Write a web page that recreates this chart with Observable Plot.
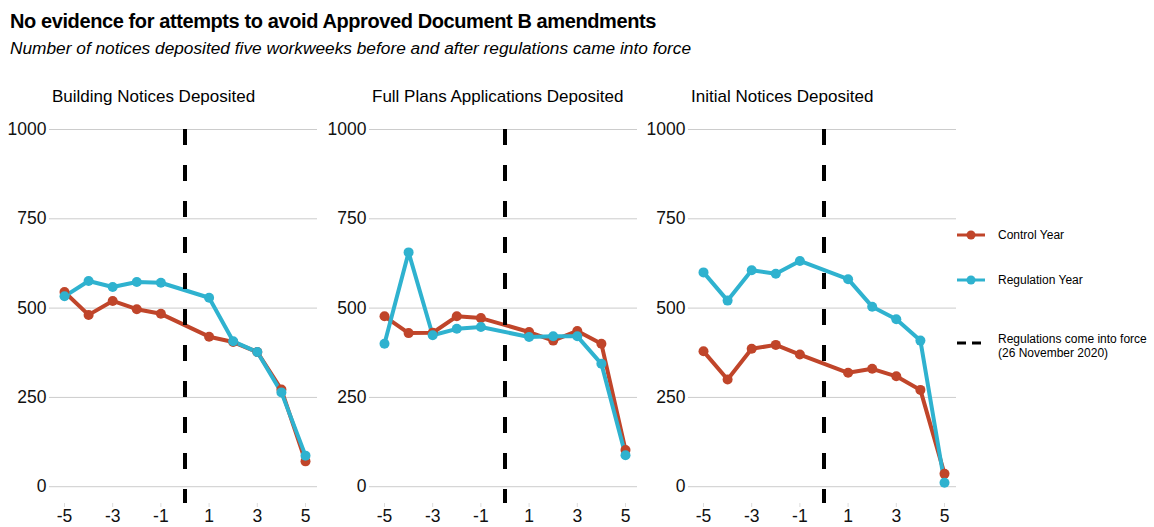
<!DOCTYPE html>
<html>
<head>
<meta charset="utf-8">
<script src="https://cdn.jsdelivr.net/npm/d3@7"></script>
<script src="https://cdn.jsdelivr.net/npm/@observablehq/plot@0.6"></script>
<style>
  html, body { margin: 0; padding: 0; background: #fff; }
  body { width: 1154px; height: 527px; position: relative; overflow: hidden; font-family: "Liberation Sans", Arial, sans-serif; color: #000; }
  #title { position: absolute; left: 10px; top: 10px; font-size: 20px; font-weight: bold; letter-spacing: -0.4px; }
  #subtitle { position: absolute; left: 10px; top: 38px; font-size: 17.3px; font-style: italic; letter-spacing: 0px; }
  .ptitle { position: absolute; top: 87px; font-size: 17px; letter-spacing: 0px; }
  .panel { position: absolute; top: 110px; }
  #legend { position: absolute; left: 955px; top: 0; font-size: 12px; }
  .lg { position: absolute; left: 0; white-space: nowrap; }
  .lg svg { position: absolute; left: 0; }
  .lg span { position: absolute; left: 43px; line-height: 14px; }
</style>
</head>
<body>
<div id="title">No evidence for attempts to avoid Approved Document B amendments</div>
<div id="subtitle">Number of notices deposited five workweeks before and after regulations came into force</div>
<div id="charts"></div>
<div id="legend"></div>
<script>
const weeks = [-5, -4, -3, -2, -1, 1, 2, 3, 4, 5];
const panels = ["Building Notices Deposited", "Full Plans Applications Deposited", "Initial Notices Deposited"];
const seriesNames = ["Control Year", "Regulation Year"];
const seriesColors = ["#C0452A", "#2FB2CF"];
const yTicks = [0, 250, 500, 750, 1000];
const xTicks = [-5, -3, -1, 1, 3, 5];

const buildingControl    = [545, 481, 520, 497, 484, 420, 405, 377, 272, 71];
const buildingRegulation = [533, 576, 559, 573, 571, 529, 407, 377, 264, 87];
const fullPlansControl    = [477, 430, 431, 477, 472, 433, 409, 436, 400, 103];
const fullPlansRegulation = [400, 656, 424, 442, 447, 419, 421, 421, 344, 88];
const initialControl    = [379, 300, 386, 397, 370, 319, 330, 309, 271, 36];
const initialRegulation = [600, 521, 606, 596, 632, 581, 504, 469, 409, 11];

const panelSeries = [
  [buildingControl, buildingRegulation],
  [fullPlansControl, fullPlansRegulation],
  [initialControl, initialRegulation]
];
const panelLeft = [0, 320, 639];
const regulationWeek = 0;

const charts = document.getElementById("charts");
panels.forEach((name, i) => {
  const t = document.createElement("div");
  t.className = "ptitle";
  t.style.left = (panelLeft[i] + 52) + "px";
  t.textContent = name;
  charts.appendChild(t);

  const rows = [];
  panelSeries[i].forEach((vals, s) => {
    weeks.forEach((w, k) => rows.push({week: w, value: vals[k], series: seriesNames[s]}));
  });

  const plot = Plot.plot({
    width: 319,
    height: 417,
    marginTop: 19,
    marginBottom: 24,
    marginLeft: 49,
    marginRight: 2,
    style: {fontFamily: "Liberation Sans, Arial, sans-serif", fontSize: "17px", color: "#000", background: "transparent"},
    x: {domain: [-5, 5], insetLeft: 15, insetRight: 12},
    y: {domain: [-47, 1000]},
    color: {domain: seriesNames, range: seriesColors},
    marks: [
      Plot.ruleY(yTicks, {stroke: "#cccccc", strokeWidth: 1}),
      Plot.axisY(yTicks, {tickSize: 0, tickPadding: 3, fontSize: 17.5, label: null, fill: "#111", tickFormat: d => String(d)}),
      Plot.axisX(xTicks, {tickSize: 4, tickPadding: 2, stroke: "#dddddd", fontSize: 17.5, label: null, fill: "#111", tickFormat: d => String(d)}),
      Plot.line(rows, {x: "week", y: "value", z: "series", stroke: "series", strokeWidth: 4}),
      Plot.dot(rows, {x: "week", y: "value", fill: "series", r: 5}),
      Plot.ruleX([regulationWeek], {y1: 1000, y2: -47, stroke: "#000", strokeWidth: 4, strokeDasharray: "16,20"})
    ]
  });
  plot.classList.add("panel");
  plot.style.left = panelLeft[i] + "px";
  charts.appendChild(plot);
});

const legend = document.getElementById("legend");
const lgItems = [
  {top: 228, html: `<svg width="32" height="14"><line x1="2" x2="30" y1="7" y2="7" stroke="${seriesColors[0]}" stroke-width="3"/><circle cx="16" cy="7" r="4.5" fill="${seriesColors[0]}"/></svg><span style="top:0">${seriesNames[0]}</span>`},
  {top: 273, html: `<svg width="32" height="14"><line x1="2" x2="30" y1="7" y2="7" stroke="${seriesColors[1]}" stroke-width="3"/><circle cx="16" cy="7" r="4.5" fill="${seriesColors[1]}"/></svg><span style="top:0">${seriesNames[1]}</span>`},
  {top: 336, html: `<svg width="32" height="14"><line x1="2" x2="28" y1="7" y2="7" stroke="#000" stroke-width="3" stroke-dasharray="9,6"/></svg><span style="top:-4px">Regulations come into force<br>(26 November 2020)</span>`}
];
lgItems.forEach(it => {
  const d = document.createElement("div");
  d.className = "lg";
  d.style.top = it.top + "px";
  d.innerHTML = it.html;
  legend.appendChild(d);
});
</script>
</body>
</html>
